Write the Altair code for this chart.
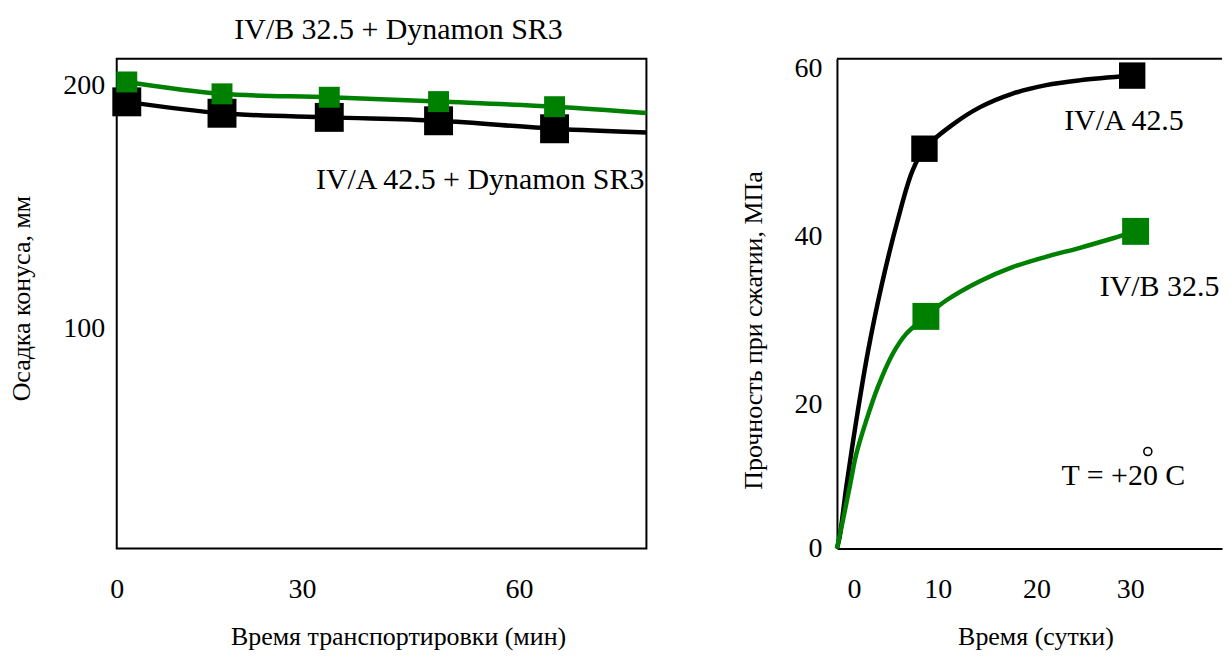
import altair as alt
import pandas as pd

FONT = "Liberation Serif, Times New Roman, serif"
GREEN = "#008000"

# ---------------- Left panel: cone slump vs transport time ----------------
slump_time = [1.5, 15.7, 31.7, 48.0, 65.3]
slump_green = [201.6, 196.7, 195.3, 193.5, 191.4]      # IV/B 32.5 + Dynamon SR3
slump_black = [193.4, 188.7, 187.0, 185.6, 182.3]      # IV/A 42.5 + Dynamon SR3
slump_curve_time = [1.5, 15.7, 31.7, 48.0, 65.3, 79.0]
slump_curve_green = [201.6, 196.7, 195.3, 193.5, 191.4, 188.8]
slump_curve_black = [193.4, 188.7, 187.0, 185.6, 182.3, 180.8]

# ---------------- Right panel: compressive strength vs age ----------------
str_days_black = [8.95, 30.2]
str_black = [50.3, 59.5]                                 # IV/A 42.5
str_days_green = [9.1, 30.55]
str_green = [29.2, 39.9]                                 # IV/B 32.5
curve_days_black = [0, 0.28, 0.96, 1.98, 3.13, 4.53, 6.19, 7.72, 8.95, 11.8, 14.6, 17.9, 21.4, 24.8, 30.2]
curve_black = [0, 1.5, 7.8, 16.1, 24.5, 32.9, 41.2, 47.5, 50.3, 53.3, 55.5, 57.2, 58.3, 58.9, 59.5]
curve_days_green = [0, 0.61, 1.30, 1.98, 3.0, 4.18, 5.71, 7.08, 9.12, 11.16, 14.56, 17.96, 21.37, 24.77, 28.16, 30.55]
curve_green = [0, 3.55, 7.74, 11.9, 16.1, 20.3, 24.5, 27.0, 29.2, 31.2, 33.6, 35.4, 36.7, 37.8, 39.0, 39.9]

left_x_ticks = [0, 30, 60]
left_y_ticks = [100, 200]
right_x_ticks = [0, 10, 20, 30]
right_y_ticks = [0, 20, 40, 60]


def df(xs, ys):
    return pd.DataFrame({"x": xs, "y": ys})


# ---------- left ----------
LW, LH = 531, 491
lx = alt.X(
    "x:Q",
    scale=alt.Scale(domain=[0, 79.0], nice=False, zero=False),
    axis=alt.Axis(
        values=left_x_ticks,
        title="Время транспортировки (мин)",
        labelFlush=False,
        labelPadding=27,
        titlePadding=20,
        titleX=282,
        domain=False,
        labelOffset={"condition": {"test": "datum.value === 30", "value": -16}, "value": 0},
    ),
)
ly = alt.Y(
    "y:Q",
    scale=alt.Scale(domain=[9.3, 211.2], nice=False, zero=False),
    axis=alt.Axis(
        values=left_y_ticks,
        title="Осадка конуса, мм",
        labelPadding=12,
        titlePadding=28,
        titleY=240,
        domain=False,
    ),
)

l_black_line = alt.Chart(df(slump_curve_time, slump_curve_black)).mark_line(
    color="black", strokeWidth=4.5, interpolate="catmull-rom"
).encode(x=lx, y=ly)
l_black_pts = alt.Chart(df(slump_time, slump_black)).mark_square(
    color="black", size=841, opacity=1
).encode(x="x:Q", y="y:Q")
l_green_line = alt.Chart(df(slump_curve_time, slump_curve_green)).mark_line(
    color=GREEN, strokeWidth=4.5, interpolate="catmull-rom"
).encode(x="x:Q", y="y:Q")
l_green_pts = alt.Chart(df(slump_time, slump_green)).mark_square(
    color=GREEN, size=441, opacity=1
).encode(x="x:Q", y="y:Q")
l_label = alt.Chart().mark_text(
    text="IV/A 42.5 + Dynamon SR3", font=FONT, fontSize=30, color="black",
    align="right", baseline="alphabetic"
).encode(x=alt.datum(78.7), y=alt.datum(157.6))

left = alt.layer(l_black_line, l_black_pts, l_green_line, l_green_pts, l_label).properties(
    width=LW,
    height=LH,
    title=alt.TitleParams(
        "IV/B 32.5 + Dynamon SR3", font=FONT, fontSize=30, fontWeight="normal",
        color="black", anchor="middle", frame="group", dx=17, offset=13.5,
    ),
    view=alt.ViewBackground(stroke="black", strokeWidth=2),
)

# ---------- right ----------
RW, RH = 386, 491
rx = alt.X(
    "x:Q",
    scale=alt.Scale(domain=[0, RW / 9.8], nice=False, zero=False),
    axis=alt.Axis(
        values=right_x_ticks,
        title="Время (сутки)",
        labelFlush=False,
        labelPadding=27,
        titlePadding=20,
        titleX=199,
        domain=True,
        labelOffset={
            "condition": [
                {"test": "datum.value === 0", "value": 17},
                {"test": "datum.value === 10", "value": 3},
                {"test": "datum.value === 20", "value": 4},
            ],
            "value": 0,
        },
    ),
)
ry = alt.Y(
    "y:Q",
    scale=alt.Scale(domain=[0, 491 / 7.967], nice=False, zero=False),
    axis=alt.Axis(
        values=right_y_ticks,
        title="Прочность при сжатии, МПа",
        labelPadding=15,
        titlePadding=28,
        titleY=272,
        domain=True,
        labelOffset={
            "condition": [
                {"test": "datum.value === 20", "value": 15},
                {"test": "datum.value === 40", "value": 6},
                {"test": "datum.value === 60", "value": -3},
            ],
            "value": 0,
        },
    ),
)

r_black_line = alt.Chart(df(curve_days_black, curve_black)).mark_line(
    color="black", strokeWidth=4.5, interpolate="catmull-rom"
).encode(x=rx, y=ry)
r_green_line = alt.Chart(df(curve_days_green, curve_green)).mark_line(
    color=GREEN, strokeWidth=4.5, interpolate="catmull-rom"
).encode(x="x:Q", y="y:Q")
r_black_pts = alt.Chart(df(str_days_black, str_black)).mark_square(
    color="black", size=700, opacity=1
).encode(x="x:Q", y="y:Q")
r_green_pts = alt.Chart(df(str_days_green, str_green)).mark_square(
    color=GREEN, size=729, opacity=1
).encode(x="x:Q", y="y:Q")
r_top = alt.Chart().mark_rule(color="black", strokeWidth=2).encode(
    x=alt.value(0), x2=alt.value(RW), y=alt.value(0)
)
r_lab_a = alt.Chart().mark_text(
    text="IV/A 42.5", font=FONT, fontSize=30, color="black", align="center", baseline="alphabetic"
).encode(x=alt.datum(29.36), y=alt.datum(52.7))
r_lab_b = alt.Chart().mark_text(
    text="IV/B 32.5", font=FONT, fontSize=30, color="black", align="center", baseline="alphabetic"
).encode(x=alt.datum(33.0), y=alt.datum(31.8))
r_lab_t = alt.Chart().mark_text(
    text="T = +20 C", font=FONT, fontSize=30, color="black", align="center", baseline="alphabetic"
).encode(x=alt.datum(29.3), y=alt.datum(7.95))
r_deg = alt.Chart().mark_point(
    shape="circle", size=64, filled=False, color="black", strokeWidth=1.6, opacity=1
).encode(x=alt.datum(31.8), y=alt.datum(12.2))

right = alt.layer(
    r_black_line, r_green_line, r_black_pts, r_green_pts, r_top, r_lab_a, r_lab_b, r_lab_t, r_deg
).properties(
    width=RW,
    height=RH,
    view=alt.ViewBackground(strokeOpacity=0),
)

chart = (
    alt.hconcat(left, right, spacing=84)
    .properties(padding={"left": 0, "top": 5, "right": 0, "bottom": 0})
    .configure_axis(
        labelFont=FONT,
        labelFontSize=28,
        labelColor="black",
        titleFont=FONT,
        titleFontSize=26,
        titleFontWeight="normal",
        titleColor="black",
        ticks=False,
        grid=False,
        domainColor="black",
        domainWidth=2,
    )
)

chart.save("out.html", embed_options={"renderer": "svg", "actions": False})
